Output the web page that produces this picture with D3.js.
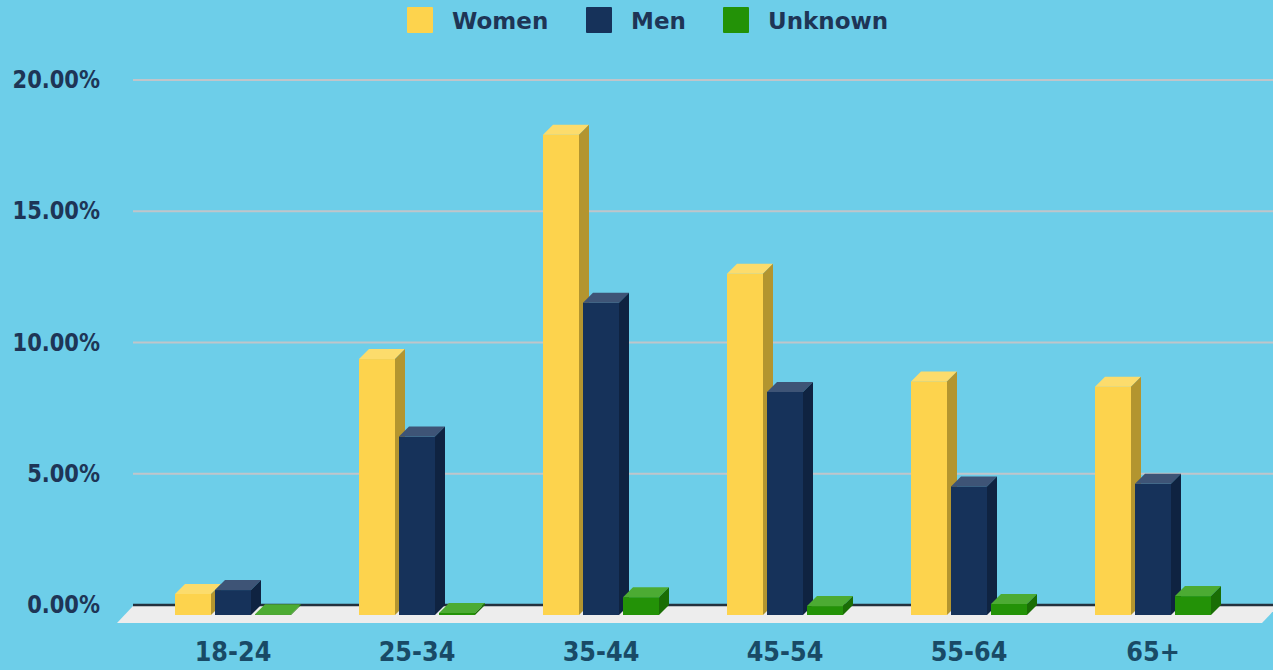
<!DOCTYPE html>
<html>
<head>
<meta charset="utf-8">
<script src="https://cdn.jsdelivr.net/npm/d3@7"></script>
<style>
  html, body { margin: 0; padding: 0; background: #6dcee9; }
  svg { display: block; }
  text { font-family: "DejaVu Sans", Verdana, sans-serif; font-weight: bold; }
</style>
</head>
<body>
<svg width="1273" height="670"></svg>
<script>
// data (percent of total)
let categories = ["18-24", "25-34", "35-44", "45-54", "55-64", "65+"];
let seriesNames = ["Women", "Men", "Unknown"];
let women = [0.8, 9.75, 18.3, 13.0, 8.9, 8.7];
let men = [0.95, 6.8, 11.9, 8.5, 4.9, 5.0];
let unknown = [0.03, 0.08, 0.68, 0.34, 0.42, 0.72];
let yTicks = [0, 5, 10, 15, 20];

let w = 1273;
let h = 670;
let depth = 10;
let left = 123;

let svg = d3.select("svg");

let colors = {
    Women:   {front: "#fdd34d", top: "#fcdc6c", side: "#b3952f"},
    Men:     {front: "#16325a", top: "#3e5476", side: "#0f2341"},
    Unknown: {front: "#239207", top: "#4cab33", side: "#1a6e05"}
};

let values = {Women: women, Men: men, Unknown: unknown};

let xScale = d3.scaleBand()
                .domain(categories)
                .range([141, 1245]);

let x1 = d3.scaleBand()
                .domain(seriesNames)
                .range([0, 116])
                .paddingInner(0.1);

let yScale = d3.scaleLinear()
                .domain([0, 20])
                .range([615, 90]);

let groupOffset = (xScale.bandwidth() - 116) / 2;

// gridlines (back wall)
svg.append("g")
    .selectAll("line")
    .data(yTicks.filter(t => t > 0))
    .enter()
    .append("line")
    .attr("x1", left + depth)
    .attr("x2", w)
    .attr("y1", d => yScale(d) - depth)
    .attr("y2", d => yScale(d) - depth)
    .attr("stroke", "#c0c5ca")
    .attr("stroke-width", 2);

// y labels
let yAxis = d3.axisLeft(yScale)
                .tickValues(yTicks)
                .tickFormat(d => d3.format(".2f")(d) + "%")
                .tickSize(0)
                .tickPadding(0);
let yg = svg.append("g")
    .attr("transform", "translate(100, " + (-depth) + ")")
    .call(yAxis);
yg.select(".domain").remove();
yg.selectAll("text")
    .attr("fill", "#1e3556")
    .style("font-size", "21px")
    .attr("dy", "0.31em")
    .attr("transform", "scale(1, 1.17)");

// floor
let y0 = yScale(0);
svg.append("polygon")
    .attr("points", [
        [left + depth, y0 - depth + 1],
        [w + 5, y0 - depth + 1],
        [w - 11, y0 + 8],
        [left - 6, y0 + 8]
    ].map(p => p.join(",")).join(" "))
    .attr("fill", "#ededed");

// zero line
svg.append("line")
    .attr("x1", left + depth)
    .attr("x2", w)
    .attr("y1", y0 - depth)
    .attr("y2", y0 - depth)
    .attr("stroke", "#24313d")
    .attr("stroke-width", 2.5);

// bars
let bars = [];
categories.forEach((c, i) => {
    seriesNames.forEach(s => {
        bars.push({cat: c, series: s, value: values[s][i]});
    });
});

let bw = x1.bandwidth();
let bar = svg.append("g")
    .selectAll("g")
    .data(bars)
    .enter()
    .append("g");

bar.append("rect")
    .attr("x", d => xScale(d.cat) + groupOffset + x1(d.series))
    .attr("y", d => yScale(d.value))
    .attr("width", bw)
    .attr("height", d => y0 - yScale(d.value))
    .attr("fill", d => colors[d.series].front);

bar.append("polygon")
    .attr("points", d => {
        let x0 = xScale(d.cat) + groupOffset + x1(d.series);
        let yt = yScale(d.value);
        return [[x0, yt], [x0 + depth, yt - depth], [x0 + bw + depth, yt - depth], [x0 + bw, yt]]
            .map(p => p.join(",")).join(" ");
    })
    .attr("fill", d => colors[d.series].top);

bar.append("polygon")
    .attr("points", d => {
        let x0 = xScale(d.cat) + groupOffset + x1(d.series) + bw;
        let yt = yScale(d.value);
        return [[x0, yt], [x0 + depth, yt - depth], [x0 + depth, y0 - depth], [x0, y0]]
            .map(p => p.join(",")).join(" ");
    })
    .attr("fill", d => colors[d.series].side);

// x labels
let xAxis = d3.axisBottom(xScale).tickSize(0).tickPadding(0);
let xg = svg.append("g")
    .attr("transform", "translate(0, 642)")
    .call(xAxis);
xg.select(".domain").remove();
xg.selectAll("text")
    .attr("fill", "#194a66")
    .style("font-size", "24px")
    .attr("dy", "0.75em")
    .attr("transform", "scale(1, 1.08)");

// legend
let legendX = [407, 586, 723];
let legend = svg.append("g")
    .selectAll("g")
    .data(seriesNames)
    .enter()
    .append("g")
    .attr("transform", (d, i) => "translate(" + legendX[i] + ", 7)");

legend.append("rect")
    .attr("width", 26)
    .attr("height", 26)
    .attr("rx", 1)
    .attr("fill", d => colors[d].front);

legend.append("text")
    .attr("x", 45)
    .attr("y", 22)
    .attr("fill", "#1e3556")
    .style("font-size", "23px")
    .text(d => d);
</script>
</body>
</html>
